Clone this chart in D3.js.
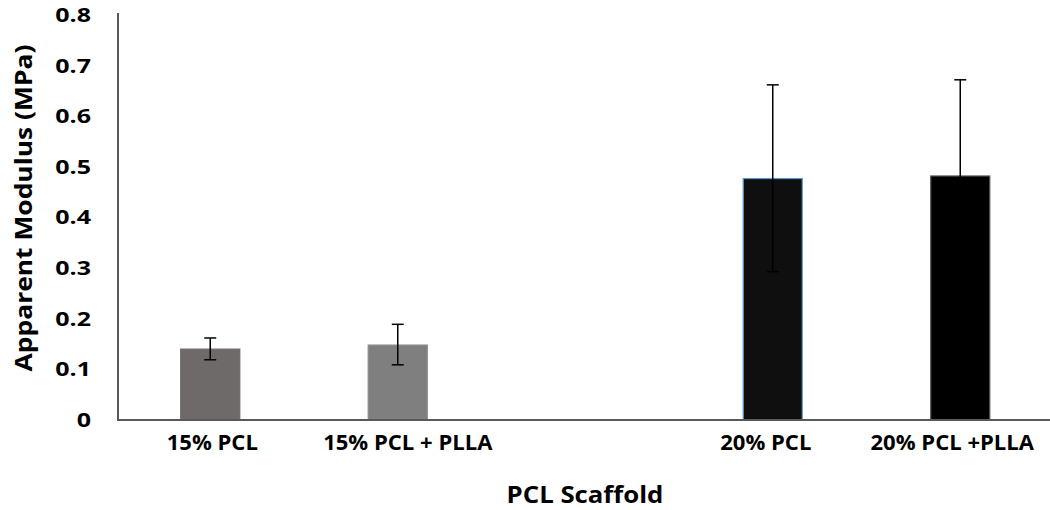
<!DOCTYPE html>
<html>
<head>
<meta charset="utf-8">
<script src="https://cdn.jsdelivr.net/npm/d3@7"></script>
<style>
  html, body { margin: 0; padding: 0; background: #fff; }
  svg text { font-family: "Open Sans", "Lato", sans-serif; font-weight: 700; fill: #000; }
</style>
</head>
<body>
<svg id="chart" width="1050" height="510"></svg>
<script>
// Scaffold groups; the empty slot keeps the 15% and 20% pairs apart
const categories = ["15% PCL", "15% PCL + PLLA", "", "20% PCL", "20% PCL +PLLA"];
const modulus = [0.14, 0.148, null, 0.477, 0.482];
const errorLow = [0.021, 0.039, null, 0.184, 0.19];
const errorHigh = [0.022, 0.041, null, 0.185, 0.19];
const barColors = ["#6e6a69", "#7f7f7f", null, "#0f0f0f", "#000000"];
const barStrokes = ["#6e6a69", "#8a8a8a", null, "#5b9bd5", "#555555"];
const yTicks = [0, 0.1, 0.2, 0.3, 0.4, 0.5, 0.6, 0.7, 0.8];

const svg = d3.select("#chart");
const plotLeft = 116.5, plotRight = 1054, plotTop = 15, plotBottom = 420;
// small horizontal offsets for the category labels
const labelNudge = [2, 10, 0, -7, -8];

// widen text horizontally along its own direction
function stretch(sel, factor) {
  sel.each(function () {
    const w = this.getComputedTextLength();
    d3.select(this).attr("textLength", w * factor).attr("lengthAdjust", "spacingAndGlyphs");
  });
}

const x = d3.scaleBand().domain(d3.range(categories.length)).range([plotLeft, plotRight])
  .paddingInner(0.685).paddingOuter(0.3425);
const y = d3.scaleLinear().domain([0, 0.8]).range([plotBottom, plotTop]);

const rows = categories.map((c, i) => ({ c, i, v: modulus[i], lo: errorLow[i], hi: errorHigh[i] }))
  .filter(d => d.v !== null);

// Bars
svg.append("g").selectAll("rect").data(rows).join("rect")
  .attr("x", d => x(d.i))
  .attr("y", d => y(d.v))
  .attr("width", x.bandwidth())
  .attr("height", d => y(0) - y(d.v))
  .attr("fill", d => barColors[d.i])
  .attr("stroke", d => barStrokes[d.i])
  .attr("stroke-width", 1.2);

// Error bars
const eb = svg.append("g").attr("stroke", "#000").attr("stroke-width", 1.5);
rows.forEach(d => {
  const cx = x(d.i) + x.bandwidth() / 2;
  const y1 = y(d.v - d.lo), y2 = y(d.v + d.hi);
  eb.append("line").attr("x1", cx).attr("x2", cx).attr("y1", y1).attr("y2", y2);
  eb.append("line").attr("x1", cx - 6).attr("x2", cx + 6).attr("y1", y1).attr("y2", y1);
  eb.append("line").attr("x1", cx - 6).attr("x2", cx + 6).attr("y1", y2).attr("y2", y2);
});

// Y axis
const yAxis = svg.append("g").attr("transform", `translate(${118},0)`)
  .call(d3.axisLeft(y).tickValues(yTicks).tickSize(0).tickPadding(27)
    .tickFormat(d => d === 0 ? "0" : d3.format(".1f")(d)));
yAxis.select(".domain").attr("stroke", "#595959").attr("stroke-width", 2)
  .attr("d", `M0,${plotTop - 2}V${plotBottom}`);
yAxis.selectAll("text").attr("font-size", 20).attr("fill", "#000")
  .attr("font-family", "'Open Sans', sans-serif").attr("font-weight", 700)
  .call(stretch, 1.25);

// X axis
const xAxis = svg.append("g").attr("transform", `translate(0,${plotBottom})`)
  .call(d3.axisBottom(x).tickSize(0).tickPadding(15).tickFormat(i => categories[i]));
xAxis.select(".domain").attr("stroke", "#595959").attr("stroke-width", 2)
  .attr("d", `M117,0H1050`);
xAxis.selectAll("text").attr("font-size", 21).attr("fill", "#000")
  .attr("font-family", "'Open Sans', sans-serif").attr("font-weight", 700)
  .attr("dx", i => labelNudge[i])
  .call(stretch, 1.05);

// Axis titles
svg.append("text").attr("x", 585).attr("y", 503).attr("text-anchor", "middle")
  .attr("font-size", 23).text("PCL Scaffold")
  .call(stretch, 1.12);
svg.append("text").attr("transform", "translate(32,208) rotate(-90)")
  .attr("text-anchor", "middle").attr("font-size", 24)
  .text("Apparent Modulus (MPa)")
  .call(stretch, 1.1);
</script>
</body>
</html>
